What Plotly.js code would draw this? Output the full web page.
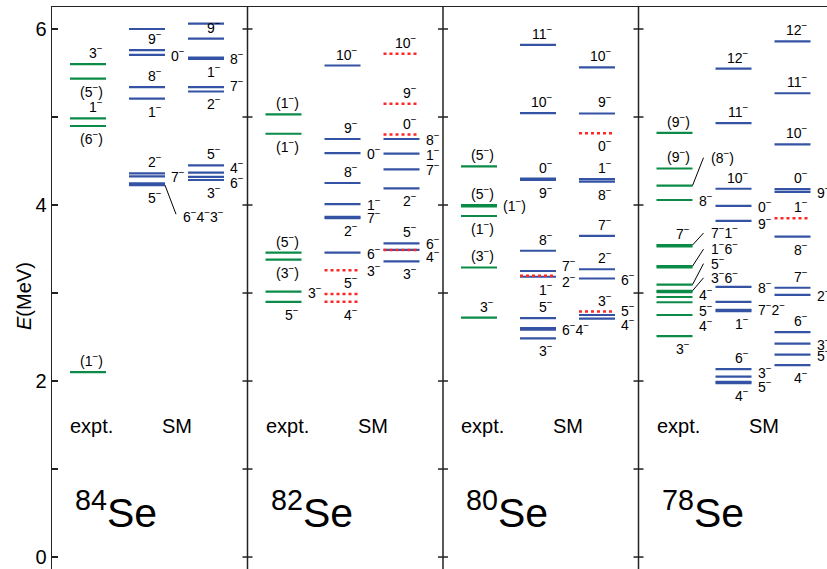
<!DOCTYPE html>
<html><head><meta charset="utf-8">
<script src="https://cdn.plot.ly/plotly-3.0.1.min.js"></script>
<style>html,body{margin:0;padding:0;background:#fff}#chart{width:827px;height:569px}</style>
</head><body><div id="chart"></div>
<script>
// ================= DATA (level energies in MeV, spin-parity labels) =================
const nuclei = ['84', '82', '80', '78'];
const columnTitles = ['expt.', 'SM'];
const yTickVals = [0, 1, 2, 3, 4, 5, 6];
const yTickText = ['0', '', '2', '', '4', '', '6'];
const yTitle = '<i>E</i>(MeV)';

// 84Se
const se84_expt_E = [5.60, 5.435, 4.985, 4.898, 2.10];
const se84_expt_J = ['3−', '(5−)', '1−', '(6−)', '(1−)'];
const se84_sm1_E = [6.00, 5.76, 5.705, 5.34, 5.21, 4.36, 4.325, 4.245, 4.225];
const se84_sm1_J = ['', '9−', '0−', '8−', '1−', '2−', '7−', '5−', '6−4−3−'];
const se84_sm2_E = [6.06, 5.89, 5.675, 5.66, 5.34, 5.29, 4.45, 4.367, 4.32, 4.284];
const se84_sm2_J = ['', '9−', '8−', '1−', '7−', '2−', ['5−', '4−'], '', '', ['6−', '3−']];

// 82Se
const se82_expt_E = [5.03, 4.81, 3.46, 3.38, 3.015, 2.90];
const se82_expt_J = ['(1−)', '(1−)', '(5−)', '(3−)', '3−', '5−'];
const se82_sm1_E = [5.585, 4.75, 4.59, 4.25, 4.01, 3.865, 3.85, 3.46];
const se82_sm1_J = ['10−', '9−', '0−', '8−', '1−', '7−', '2−', '6−'];
const se82_sm1red_E = [3.26, 2.99, 2.90];
const se82_sm1red_J = ['3−', '5−', '4−'];
const se82_sm2_E = [4.75, 4.585, 4.405, 4.19, 3.565, 3.49, 3.36];
const se82_sm2_J = ['8−', '1−', '7−', '2−', ['5−', '6−'], '4−', '3−'];
const se82_sm2red_E = [5.72, 5.15, 4.80, 3.49];
const se82_sm2red_J = ['10−', '9−', '0−', ''];

// 80Se
const se80_expt_E = [4.44, 4.00, 3.985, 3.875, 3.29, 2.72];
const se80_expt_J = ['(5−)', ['(5−)', '(1−)'], '', '(1−)', '(3−)', '3−'];
const se80_sm1_E = [5.82, 5.045, 4.30, 4.285, 3.48, 3.25, 3.185, 2.715, 2.60, 2.585, 2.485];
const se80_sm1_J = ['11−', '10−', '0−', '9−', '8−', '7−', ['2−', '1−'], '5−', '6−4−', '', '3−'];
const se80_sm1red_E = [3.195];
const se80_sm1red_J = [''];
const se80_sm2_E = [5.565, 5.04, 4.295, 4.265, 3.65, 3.27, 3.165, 2.75, 2.71];
const se80_sm2_J = ['10−', '9−', '1−', '8−', '7−', '2−', '6−', '', '4−'];
const se80_sm2red_E = [4.815, 2.79];
const se80_sm2red_J = ['0−', ['3−', '5−']];

// 78Se
const se78_expt_E = [4.82, 4.415, 4.22, 4.057, 3.545, 3.53, 3.305, 3.29, 3.095, 3.025, 3.01, 2.955, 2.895, 2.75, 2.51];
const se78_expt_J = ['(9−)', '(9−)', '(8−)', '8−', ['7−', '7−1−'], '', '1−6−', '', '5−', '3−6−', '', '4−', '5−', '4−', '3−'];
const se78_sm1_E = [5.55, 4.93, 4.185, 3.99, 3.82, 3.07, 2.90, 2.81, 2.795, 2.135, 2.05, 1.99, 1.975];
const se78_sm1_J = ['12−', '11−', '10−', '0−', '9−', '8−', '', '7−2−', '1−', '6−', '3−', '5−', '4−'];
const se78_sm2_E = [5.86, 5.27, 4.69, 4.18, 4.15, 3.64, 3.06, 2.98, 2.555, 2.425, 2.30, 2.18];
const se78_sm2_J = ['12−', '11−', '10−', '0−', '9−', '8−', '7−', '2−', '6−', '3−', '5−', '4−'];
const se78_sm2red_E = [3.85];
const se78_sm2red_J = ['1−'];

// ================= LAYOUT / LABEL PLACEMENT (not data) =================
// placement codes: a = above, b = below, r = right, L = leader line; optional px shift (+ = down)
const se84_expt_P = ['a', 'b', 'a', 'b', 'a'];
const se84_sm1_P = ['', 'a', 'r', 'a', 'b', 'a', 'r', 'b+2', 'L+31'];
const se84_sm2_P = ['', 'a', 'r', 'b', 'r-2', 'b', ['a', 'r+2'], '', '', ['r+2', 'b']];
const se82_expt_P = ['a', 'b', 'a', 'b', 'r', 'b'];
const se82_sm1_P = ['a', 'a', 'r', 'a', 'r', 'r', 'b', 'r'];
const se82_sm1red_P = ['r', 'a', 'b'];
const se82_sm2_P = ['r', 'r', 'r', 'b', ['a', 'r'], 'r+6', 'b'];
const se82_sm2red_P = ['a', 'a', 'a', ''];
const se80_expt_P = ['a', ['a', 'r'], '', 'b', 'a', 'a'];
const se80_sm1_P = ['a', 'a', 'a', 'b', 'a', 'r-6', ['r+4', 'b'], 'a', 'r+1', '', 'b'];
const se80_sm1red_P = [''];
const se80_sm2_P = ['a', 'a', 'a', 'b', 'a', 'a', 'r', '', 'r+5'];
const se80_sm2red_P = ['b', ['a', 'r-2']];
const se78_expt_P = ['a', 'a', 'L-29', 'r', ['a', 'L-13'], '', 'L-18', '', 'L-22', 'L-14', '', 'r-3', 'r+8', 'r+10', 'b'];
const se78_sm1_P = ['a', 'a', 'a', 'r', 'r+2', 'r', '', 'r-1', 'b', 'a', 'r-5', 'r+4', 'b'];
const se78_sm2_P = ['a', 'a', 'a', 'a', 'r', 'b', 'a', 'r', 'a', 'r', 'r', 'b'];
const se78_sm2red_P = ['a'];

const GREEN = '#0b8b47', BLUE = '#3553a4', RED = '#ff2626', AX = '#222';
const FONT = 'Liberation Sans, Arial, Helvetica, sans-serif';
const X0 = 52, X1 = 827, PANEL_W = 195.5;
const YMIN = -0.136, YMAX = 6.25, PLOT_TOP = 7, H = 569;
const PX = (H - PLOT_TOP) / (YMAX - YMIN); // px per MeV
const colOff = [[18, 54], [77, 113], [136, 172]];

const columns = [
  [0, 0, se84_expt_E, se84_expt_J, se84_expt_P, 'g'],
  [0, 1, se84_sm1_E, se84_sm1_J, se84_sm1_P, 'b'],
  [0, 2, se84_sm2_E, se84_sm2_J, se84_sm2_P, 'b'],
  [1, 0, se82_expt_E, se82_expt_J, se82_expt_P, 'g'],
  [1, 1, se82_sm1_E, se82_sm1_J, se82_sm1_P, 'b'],
  [1, 1, se82_sm1red_E, se82_sm1red_J, se82_sm1red_P, 'r'],
  [1, 2, se82_sm2_E, se82_sm2_J, se82_sm2_P, 'b'],
  [1, 2, se82_sm2red_E, se82_sm2red_J, se82_sm2red_P, 'r'],
  [2, 0, se80_expt_E, se80_expt_J, se80_expt_P, 'g'],
  [2, 1, se80_sm1_E, se80_sm1_J, se80_sm1_P, 'b'],
  [2, 1, se80_sm1red_E, se80_sm1red_J, se80_sm1red_P, 'r'],
  [2, 2, se80_sm2_E, se80_sm2_J, se80_sm2_P, 'b'],
  [2, 2, se80_sm2red_E, se80_sm2red_J, se80_sm2red_P, 'r'],
  [3, 0, se78_expt_E, se78_expt_J, se78_expt_P, 'g'],
  [3, 1, se78_sm1_E, se78_sm1_J, se78_sm1_P, 'b'],
  [3, 2, se78_sm2_E, se78_sm2_J, se78_sm2_P, 'b'],
  [3, 2, se78_sm2red_E, se78_sm2red_J, se78_sm2red_P, 'r']
];

const A_SHIFT = 2, B_SHIFT = -2, R_SHIFT = 0;
const fmt = s => s.replace(/−/g, '<sup>−</sup>');
const traces = [], annotations = [], shapes = [];
const lblFont = {family: FONT, size: 14, color: '#000'};

columns.forEach(([panel, col, E, J, P, style]) => {
  const p = X0 + PANEL_W * panel;
  const xL = p + colOff[col][0], xR = p + colOff[col][1];
  const xs = [], ys = [];
  E.forEach((e, i) => {
    xs.push(xL, xR, null); ys.push(e, e, null);
    const labs = Array.isArray(J[i]) ? J[i] : [J[i]];
    const codes = Array.isArray(P[i]) ? P[i] : [P[i]];
    labs.forEach((t, k) => {
      if (!t) return;
      const code = codes[k] || 'a';
      const kind = code[0];
      const sh = parseFloat(code.slice(1)) || 0;
      const base = {text: fmt(t), font: lblFont, showarrow: false, borderpad: 0, xref: 'x', yref: 'y', y: e};
      if (kind === 'a') annotations.push(Object.assign(base, {x: xR - 2, xanchor: 'right', yanchor: 'bottom', yshift: A_SHIFT - sh}));
      else if (kind === 'b') annotations.push(Object.assign(base, {x: xR - 2, xanchor: 'right', yanchor: 'top', yshift: B_SHIFT - sh}));
      else if (kind === 'r') annotations.push(Object.assign(base, {x: xR + 5, xanchor: 'left', yanchor: 'middle', yshift: R_SHIFT - sh}));
      else if (kind === 'L') {
        const eLab = e - sh / PX;
        shapes.push({type: 'line', xref: 'x', yref: 'y', x0: xR, y0: e, x1: xR + 11, y1: eLab + (sh > 0 ? 2 / PX : -1 / PX), line: {color: '#000', width: 1}});
        annotations.push(Object.assign(base, {x: xR + 17, y: eLab, xanchor: 'left', yanchor: 'middle', yshift: R_SHIFT}));
      }
    });
  });
  const line = style === 'r' ? {color: RED, width: 2.5, dash: 'dot'} :
               {color: style === 'g' ? GREEN : BLUE, width: 2.2};
  traces.push({type: 'scatter', mode: 'lines', x: xs, y: ys, line: line, hoverinfo: 'skip', showlegend: false});
});

// panel dividers with ticks on both sides
for (let i = 1; i < 4; i++) {
  const d = X0 + PANEL_W * i;
  shapes.push({type: 'line', xref: 'x', yref: 'paper', x0: d, x1: d, y0: 0, y1: 1, line: {color: AX, width: 1.5}});
  yTickVals.forEach(v => shapes.push({type: 'line', xref: 'x', yref: 'y', x0: d - 5, x1: d + 5, y0: v, y1: v, line: {color: AX, width: 1.5}}));
}

// column titles and nucleus labels
nuclei.forEach((a, i) => {
  const p = X0 + PANEL_W * i;
  annotations.push({text: columnTitles[0], x: p + 17, y: 1.352, xref: 'x', yref: 'y', xanchor: 'left', yanchor: 'bottom', showarrow: false, borderpad: 0, font: {family: FONT, size: 20, color: '#000'}});
  annotations.push({text: columnTitles[1], x: p + 109, y: 1.352, xref: 'x', yref: 'y', xanchor: 'left', yanchor: 'bottom', showarrow: false, borderpad: 0, font: {family: FONT, size: 20, color: '#000'}});
  annotations.push({text: '<sup>' + a + '</sup>Se', x: p + 22, y: 0.233, xref: 'x', yref: 'y', xanchor: 'left', yanchor: 'bottom', showarrow: false, borderpad: 0, font: {family: FONT, size: 41, color: '#000'}});
});

// y-axis title (rotated), positioned in paper coordinates
annotations.push({text: yTitle, xref: 'paper', yref: 'paper', x: (24 - X0) / (X1 - X0), y: (H - 296) / (H - PLOT_TOP),
  xanchor: 'center', yanchor: 'middle', textangle: -90, showarrow: false, borderpad: 0,
  font: {family: FONT, size: 20, color: '#000'}});

const layout = {
  width: 827, height: 569,
  margin: {l: X0, r: 0, t: PLOT_TOP, b: 0, pad: 0},
  paper_bgcolor: '#fff', plot_bgcolor: '#fff',
  showlegend: false, hovermode: false,
  xaxis: {range: [X0, X1], side: 'top', showline: true, linecolor: AX, linewidth: 1.5, mirror: false,
          showgrid: false, zeroline: false, showticklabels: false, ticks: '', fixedrange: true},
  yaxis: {range: [YMIN, YMAX], showline: true, linecolor: AX, linewidth: 1.5, showgrid: false, zeroline: false,
          ticks: 'inside', ticklen: 6, tickwidth: 1.5, tickcolor: AX,
          tickvals: yTickVals, ticktext: yTickText, tickfont: {family: FONT, size: 20, color: '#000'},
          fixedrange: true},
  shapes: shapes, annotations: annotations
};

Plotly.newPlot('chart', traces, layout, {displayModeBar: false, staticPlot: true});
</script></body></html>
